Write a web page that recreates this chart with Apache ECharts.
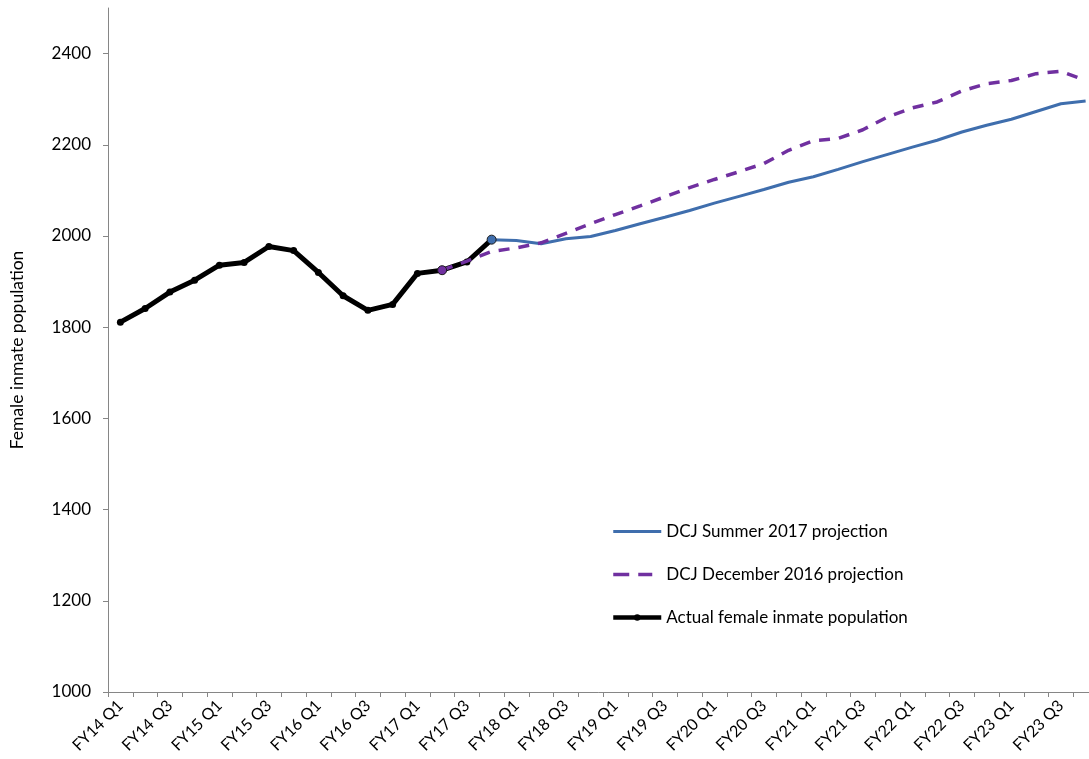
<!DOCTYPE html>
<html>
<head>
<meta charset="utf-8">
<script src="https://cdn.jsdelivr.net/npm/echarts@6/dist/echarts.min.js"></script>
<style>
html,body{margin:0;padding:0;background:#fff;overflow:hidden;}
#chart{width:1089px;height:759px;}
</style>
</head>
<body>
<div id="chart"></div>
<script>
const categories = [];
const fyYears = ['14','15','16','17','18','19','20','21','22','23'];
fyYears.forEach(y => { ['Q1','Q2','Q3','Q4'].forEach(q => categories.push('FY' + y + ' ' + q)); });

const actualPopulation = [1811, 1841, 1877, 1903, 1936, 1942, 1977, 1968, 1920, 1869, 1837, 1850, 1918, 1925, 1943, 1992];

const summer2017Projection = [null, null, null, null, null, null, null, null, null, null, null, null, null, null, null,
  1992, 1990, 1983, 1994, 1999, 2012, 2027, 2041, 2056, 2072, 2087, 2102, 2118, 2130, 2146, 2163, 2179, 2195, 2210, 2228, 2243, 2256, 2273, 2290, 2296];

const december2016Projection = [null, null, null, null, null, null, null, null, null, null, null, null, null,
  1925, 1945, 1966, 1974, 1985, 2006, 2027, 2047, 2066, 2086, 2106, 2124, 2141, 2159, 2188, 2209, 2214, 2233, 2261, 2281, 2294, 2318, 2334, 2341, 2356, 2361, 2341];

const seriesNames = ['DCJ Summer 2017 projection', 'DCJ December 2016 projection', 'Actual female inmate population'];

function withFirstMarker(arr, color) {
  let first = true;
  return arr.map(v => {
    if (v === null) return null;
    if (first) {
      first = false;
      return { value: v, symbol: 'circle', symbolSize: 9, itemStyle: { color: color, borderColor: '#1a1a1a', borderWidth: 1 } };
    }
    return v;
  });
}

const chart = echarts.init(document.getElementById('chart'));
const font = 'Lato, "Liberation Sans", sans-serif';
chart.setOption({
  animation: false,
  textStyle: { fontFamily: font },
  grid: { left: 108, width: 990, top: 8, bottom: 67, containLabel: false, outerBoundsMode: 'none' },
  legend: {
    orient: 'vertical',
    left: 606,
    top: 518,
    itemWidth: 48,
    itemHeight: 8,
    itemGap: 26,
    textStyle: { fontSize: 17, color: '#000', fontFamily: font },
    data: [
      { name: seriesNames[0], itemStyle: { opacity: 0 }, lineStyle: { width: 3 } },
      { name: seriesNames[1], itemStyle: { opacity: 0 }, lineStyle: { width: 3.5, type: [16, 9, 14, 40] } },
      { name: seriesNames[2], lineStyle: { width: 4.5 } }
    ]
  },
  xAxis: {
    type: 'category',
    data: categories,
    boundaryGap: true,
    axisLine: { lineStyle: { color: '#868686', width: 1 } },
    axisTick: { show: true, length: 5, alignWithLabel: false, interval: 0, lineStyle: { color: '#868686' } },
    axisLabel: { interval: 1, rotate: 45, fontSize: 16, color: '#000', margin: 11, fontFamily: font }
  },
  yAxis: {
    type: 'value',
    min: 1000,
    max: 2500,
    interval: 200,
    name: 'Female inmate population',
    nameLocation: 'middle',
    nameGap: 82,
    nameTextStyle: { fontSize: 17.5, color: '#000', fontFamily: font },
    splitLine: { show: false },
    axisLine: { show: true, lineStyle: { color: '#868686', width: 1 } },
    axisTick: { show: true, length: 5, lineStyle: { color: '#868686' } },
    axisLabel: { fontSize: 17, color: '#000', margin: 17, fontFamily: font, showMaxLabel: false,
      formatter: v => (v > 2400 ? '' : String(v)) }
  },
  series: [
    {
      name: seriesNames[2],
      type: 'line',
      data: actualPopulation,
      symbol: 'circle',
      symbolSize: 7,
      showSymbol: true,
      lineStyle: { color: '#000', width: 5 },
      itemStyle: { color: '#000' },
      z: 3
    },
    {
      name: seriesNames[0],
      type: 'line',
      data: withFirstMarker(summer2017Projection, '#3F6EAD'),
      symbol: 'none',
      showSymbol: true,
      lineStyle: { color: '#3F6EAD', width: 3 },
      itemStyle: { color: '#3F6EAD' },
      z: 4
    },
    {
      name: seriesNames[1],
      type: 'line',
      data: withFirstMarker(december2016Projection, '#7030A0'),
      symbol: 'none',
      showSymbol: true,
      lineStyle: { color: '#7030A0', width: 3.5, type: [11, 9] },
      itemStyle: { color: '#7030A0' },
      z: 5
    }
  ]
});
</script>
</body>
</html>
